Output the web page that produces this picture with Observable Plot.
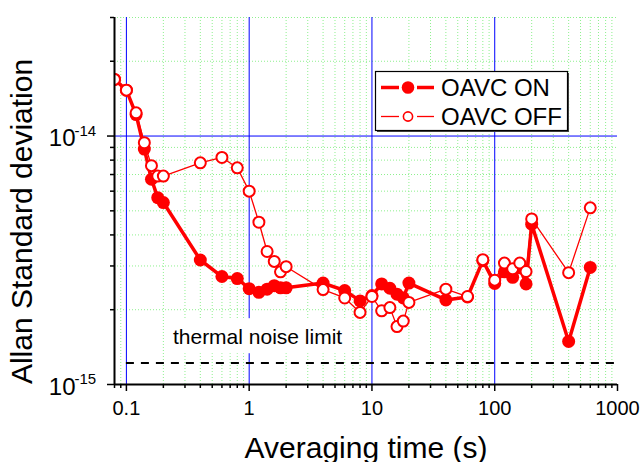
<!DOCTYPE html>
<html><head><meta charset="utf-8">
<script src="https://cdn.jsdelivr.net/npm/d3@7"></script>
<script src="https://cdn.jsdelivr.net/npm/@observablehq/plot@0.6"></script>
<style>
body{margin:0;background:#fff;font-family:"Liberation Sans",Arial,sans-serif;}
#wrap{position:relative;width:643px;height:462px;}
#legend{position:absolute;left:0;top:0;pointer-events:none;}
</style></head><body><div id="wrap"></div>
<script>
// Averaging times (s)
const tau = [0.08,0.1,0.12,0.14,0.16,0.18,0.2,0.4,0.6,0.8,1,1.2,1.4,1.6,1.8,2,4,6,8,10,12,14,16,18,20,40,60,80,100,120,140,160,180,200,400,600];
// Allan standard deviation, OAVC ON
const onValues = [16.9e-15,15.3e-15,12.2e-15,8.86e-15,6.7e-15,5.65e-15,5.4e-15,3.17e-15,2.72e-15,2.67e-15,2.43e-15,2.35e-15,2.42e-15,2.5e-15,2.45e-15,2.45e-15,2.56e-15,2.39e-15,2.17e-15,2.28e-15,2.54e-15,2.44e-15,2.31e-15,2.23e-15,2.56e-15,2.19e-15,2.25e-15,3.15e-15,2.55e-15,2.84e-15,2.7e-15,2.95e-15,2.54e-15,4.42e-15,1.49e-15,2.96e-15];
// Allan standard deviation, OAVC OFF
const offValues = [16.9e-15,15.3e-15,12.4e-15,9.4e-15,7.6e-15,6.9e-15,6.9e-15,7.8e-15,8.2e-15,7.45e-15,6.0e-15,4.5e-15,3.43e-15,3.13e-15,2.84e-15,2.98e-15,2.41e-15,2.23e-15,1.95e-15,2.26e-15,1.98e-15,2.04e-15,1.71e-15,1.8e-15,2.14e-15,2.42e-15,2.26e-15,3.18e-15,2.63e-15,3.08e-15,2.92e-15,3.08e-15,2.85e-15,4.64e-15,2.82e-15,5.14e-15];
const seriesNames = ["OAVC ON","OAVC OFF"];
const thermalNoiseLimit = 1.22e-15;
const thermalLabel = "thermal noise limit";
const thermalLabelPos = {x: 1.17, y: 1.55e-15};
const thermalLabelBox = {x1: 0.22, x2: 6.3, y1: 1.33e-15, y2: 1.84e-15};
const xMajor = [0.1,1,10,100,1000];
const xMajorLabels = ["0.1","1","10","100","1000"];
const xMinor = [0.08,0.09,0.2,0.3,0.4,0.5,0.6,0.7,0.8,0.9,2,3,4,5,6,7,8,9,20,30,40,50,60,70,80,90,200,300,400,500,600,700,800,900];
const yMajor = [1e-15,1e-14];
const yMajorExp = ["-15","-14"];
const yMinor = [2e-15,3e-15,4e-15,5e-15,6e-15,7e-15,8e-15,9e-15,2e-14,3e-14];
const blueX = [0.1,1,10,100];
const blueY = [1e-14];
const xTitle = "Averaging time (s)";
const yTitle = "Allan Standard deviation";

const onData = tau.map((t,i)=>({t, v:onValues[i]}));
const offData = tau.map((t,i)=>({t, v:offValues[i]}));
const red = "#ff0000";
const grid = "#8ef08e";

const chart = Plot.plot({
  width: 643, height: 462,
  marginLeft: 114, marginRight: 26, marginTop: 17, marginBottom: 78,
  style: {fontFamily: "'Liberation Sans', Arial, sans-serif", background: "white", color: "black"},
  x: {type: "log", domain: [0.08, 1000], axis: null},
  y: {type: "log", domain: [1e-15, 3e-14], axis: null},
  marks: [
    Plot.ruleX(xMinor, {stroke: grid, strokeWidth: 1, strokeDasharray: "1,2"}),
    Plot.ruleY(yMinor, {stroke: grid, strokeWidth: 1, strokeDasharray: "1,2"}),
    Plot.ruleX(blueX, {stroke: "#0000ff", strokeWidth: 1}),
    Plot.ruleY(blueY, {stroke: "#0000ff", strokeWidth: 1}),
    Plot.rect([thermalLabelBox], {x1: "x1", x2: "x2", y1: "y1", y2: "y2", fill: "white"}),
    Plot.text([thermalLabelPos], {x: "x", y: "y", text: () => thermalLabel, fontSize: 21, fill: "black", textAnchor: "middle", lineAnchor: "middle"}),
    Plot.ruleY([thermalNoiseLimit], {x1: 0.1, x2: 1000, stroke: "black", strokeWidth: 2, strokeDasharray: "8,7"}),
    Plot.line(onData, {x: "t", y: "v", stroke: red, strokeWidth: 3.5, clip: true}),
    Plot.dot(onData, {x: "t", y: "v", r: 6.5, fill: red, stroke: "none", clip: true}),
    Plot.line(offData, {x: "t", y: "v", stroke: red, strokeWidth: 1.3, clip: true}),
    Plot.dot(offData, {x: "t", y: "v", r: 5.5, fill: "white", stroke: red, strokeWidth: 2, clip: true}),
    // axes
    Plot.axisX(xMajor, {tickSize: 7, fill: "none", stroke: "black", strokeWidth: 1.5, label: null}),
    Plot.axisX(xMinor, {tickSize: 4, fill: "none", stroke: "black", strokeWidth: 1.5, label: null}),
    Plot.axisY(yMajor, {tickSize: 7, fill: "none", stroke: "black", strokeWidth: 1.5, label: null}),
    Plot.axisY(yMinor, {tickSize: 4, fill: "none", stroke: "black", strokeWidth: 1.5, label: null}),
    Plot.ruleX([0.08], {stroke: "black", strokeWidth: 2}),
    Plot.ruleY([1e-15], {stroke: "black", strokeWidth: 2}),
    Plot.text(xMajor, {x: d => d, frameAnchor: "bottom", dy: 23.6, text: (d,i) => xMajorLabels[i], fontSize: 20, fill: "black", textAnchor: "middle", lineAnchor: "middle"}),
    Plot.text(yMajor, {y: d => d, frameAnchor: "left", dx: -39, dy: 2.5, textAnchor: "end", lineAnchor: "middle", text: () => "10", fontSize: 24, fill: "black"}),
    Plot.text(yMajor, {y: d => d, frameAnchor: "left", dx: -40, dy: -5, textAnchor: "start", lineAnchor: "middle", text: (d,i) => yMajorExp[i], fontSize: 15, fill: "black"}),
    Plot.text([xTitle], {frameAnchor: "bottom", dy: 63.4, text: d => d, fontSize: 30, fill: "black", textAnchor: "middle", lineAnchor: "middle"}),
    Plot.text([yTitle], {frameAnchor: "left", dx: -92, dy: 20.5, rotate: -90, text: d => d, fontSize: 30, fill: "black", textAnchor: "middle", lineAnchor: "middle"})
  ]
});
const wrap = document.getElementById("wrap");
wrap.appendChild(chart);

// legend overlay (inside plot area, top right)
const lg = d3.select(wrap).append("svg").attr("id","legend").attr("width",643).attr("height",462)
  .style("font-family","'Liberation Sans', Arial, sans-serif");
lg.append("rect").attr("x",377).attr("y",73).attr("width",192).attr("height",59).attr("fill","#444");
lg.append("rect").attr("x",375.5).attr("y",71.5).attr("width",192).attr("height",59).attr("fill","white").attr("stroke","black").attr("stroke-width",1.2);
const rows = [{name: seriesNames[0], y: 87.5, w: 3.5, filled: true},{name: seriesNames[1], y: 116.5, w: 1.3, filled: false}];
rows.forEach(r => {
  lg.append("line").attr("x1",381).attr("x2",399).attr("y1",r.y).attr("y2",r.y).attr("stroke",red).attr("stroke-width",r.w);
  lg.append("line").attr("x1",417).attr("x2",434).attr("y1",r.y).attr("y2",r.y).attr("stroke",red).attr("stroke-width",r.w);
  if (r.filled) lg.append("circle").attr("cx",408).attr("cy",r.y).attr("r",6.3).attr("fill",red);
  else lg.append("circle").attr("cx",408).attr("cy",r.y).attr("r",4.6).attr("fill","white").attr("stroke",red).attr("stroke-width",1.6);
  lg.append("text").attr("x",441).attr("y",r.y+8.5).attr("font-size",24).attr("fill","black").text(r.name);
});
</script></body></html>
